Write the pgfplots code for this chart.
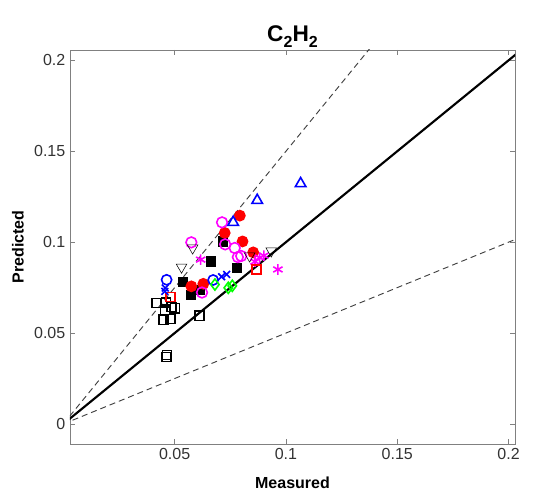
\documentclass[border=0pt]{standalone}
\usepackage{fontspec}
\setmainfont{Liberation Sans}
\usepackage{pgfplots}
\pgfplotsset{compat=1.18}
\definecolor{axgray}{gray}{0.5}
\definecolor{mmag}{rgb}{1,0,1}
\definecolor{mgreen}{rgb}{0,1,0}
\definecolor{mblue}{rgb}{0,0,1}
\definecolor{mred}{rgb}{1,0,0}
\begin{document}
\begin{tikzpicture}
\begin{axis}[
    scale only axis,
    width=333.75pt, height=295.5pt,
    xmin=0.003, xmax=0.2029,
    ymin=-0.011, ymax=0.2057,
    xtick={0.05,0.1,0.15,0.2},
    xticklabels={0.05,0.1,0.15,0.2},
    ytick={0,0.05,0.1,0.15,0.2},
    yticklabels={0,0.05,0.1,0.15,0.2},
    tick align=inside,
    major tick length=4pt,
    axis line style={axgray, line width=0.6pt},
    tick style={axgray, line width=0.6pt},
    ticklabel style={font=\fontsize{12}{14}\selectfont, text=black!80},
    /pgf/number format/assume math mode=true,
    title={\bfseries C\raisebox{-0.3em}{\fontsize{12}{12}\selectfont 2}H\raisebox{-0.3em}{\fontsize{12}{12}\selectfont 2}},
    title style={font=\fontsize{17}{19}\selectfont, yshift=-8pt},
    xlabel={\bfseries Measured},
    ylabel={\bfseries Predicted},
    label style={font=\fontsize{12}{14}\selectfont},
    xlabel style={yshift=-6pt},
    ylabel style={yshift=1pt},
    clip=true,
    mark options={solid, line width=1.2pt},
]
% reference lines
\addplot[black, line width=1.6pt] coordinates {(0,0) (0.21,0.21)};
\addplot[black!75, dash pattern=on 4.5pt off 3pt, line width=0.7pt] coordinates {(0,0) (0.14,0.21)};
\addplot[black!75, dash pattern=on 4.5pt off 3pt, line width=0.7pt] coordinates {(0,0) (0.21,0.105)};

% black open squares
\addplot[only marks, mark=square, mark size=3.4pt, black] coordinates {
  (0.0419,0.0665) (0.0456,0.0628) (0.0486,0.0643) (0.0501,0.0637)
  (0.0449,0.0573) (0.0482,0.0577) (0.0464,0.0369) (0.0466,0.0380)
  (0.0611,0.0595) (0.0461,0.0668)
};
% black filled squares
\addplot[only marks, mark=square*, mark size=3.2pt, black] coordinates {
  (0.0663,0.0894) (0.0718,0.1004) (0.0779,0.0860) (0.0539,0.0779)
  (0.0614,0.0737) (0.0572,0.0711)
};
% red filled circles
\addplot[only marks, mark=*, mark size=3.8pt, mred] coordinates {
  (0.0793,0.1146) (0.0725,0.1051) (0.0805,0.1004) (0.0853,0.0944)
  (0.0629,0.0771) (0.0575,0.0757)
};
% magenta open circles
\addplot[only marks, mark=o, mark size=4pt, mmag] coordinates {
  (0.0713,0.1109) (0.0575,0.0999) (0.0727,0.0988) (0.0770,0.0968)
  (0.0784,0.0918) (0.0799,0.0924) (0.0623,0.0723)
};
% magenta asterisks
\addplot[only marks, mark=asterisk, mark size=4pt, mmag] coordinates {
  (0.0617,0.0904) (0.0882,0.0915) (0.0861,0.0893) (0.0901,0.0926)
  (0.0964,0.0850)
};
% black open down triangles
\addplot[only marks, mark=triangle, mark size=4.6pt, black, mark options={rotate=180}] coordinates {
  (0.0581,0.0968) (0.0531,0.0863) (0.0837,0.0924) (0.0934,0.0952)
};
% blue open up triangles
\addplot[only marks, mark=triangle, mark size=4.6pt, mblue] coordinates {
  (0.1066,0.1322) (0.0871,0.1230) (0.0763,0.1109)
};
% red open squares
\addplot[only marks, mark=square, mark size=3.4pt, mred] coordinates {
  (0.0482,0.0698) (0.0867,0.0850)
};
% blue open circles
\addplot[only marks, mark=o, mark size=3.8pt, mblue] coordinates {
  (0.0464,0.0793) (0.0673,0.0792)
};
% blue crosses
\addplot[only marks, mark=x, mark size=3.6pt, mblue] coordinates {
  (0.0456,0.0729) (0.0458,0.0748) (0.0711,0.0810) (0.0734,0.0823)
};
% green open diamonds
\addplot[only marks, mark=diamond, mark size=4.2pt, mgreen] coordinates {
  (0.0681,0.0767) (0.0741,0.0749) (0.0759,0.0760)
};
\end{axis}
\useasboundingbox ([xshift=-52.5pt,yshift=-37.5pt]current axis.south west)
  rectangle ([xshift=17.25pt,yshift=37.5pt]current axis.north east);
\end{tikzpicture}
\end{document}
